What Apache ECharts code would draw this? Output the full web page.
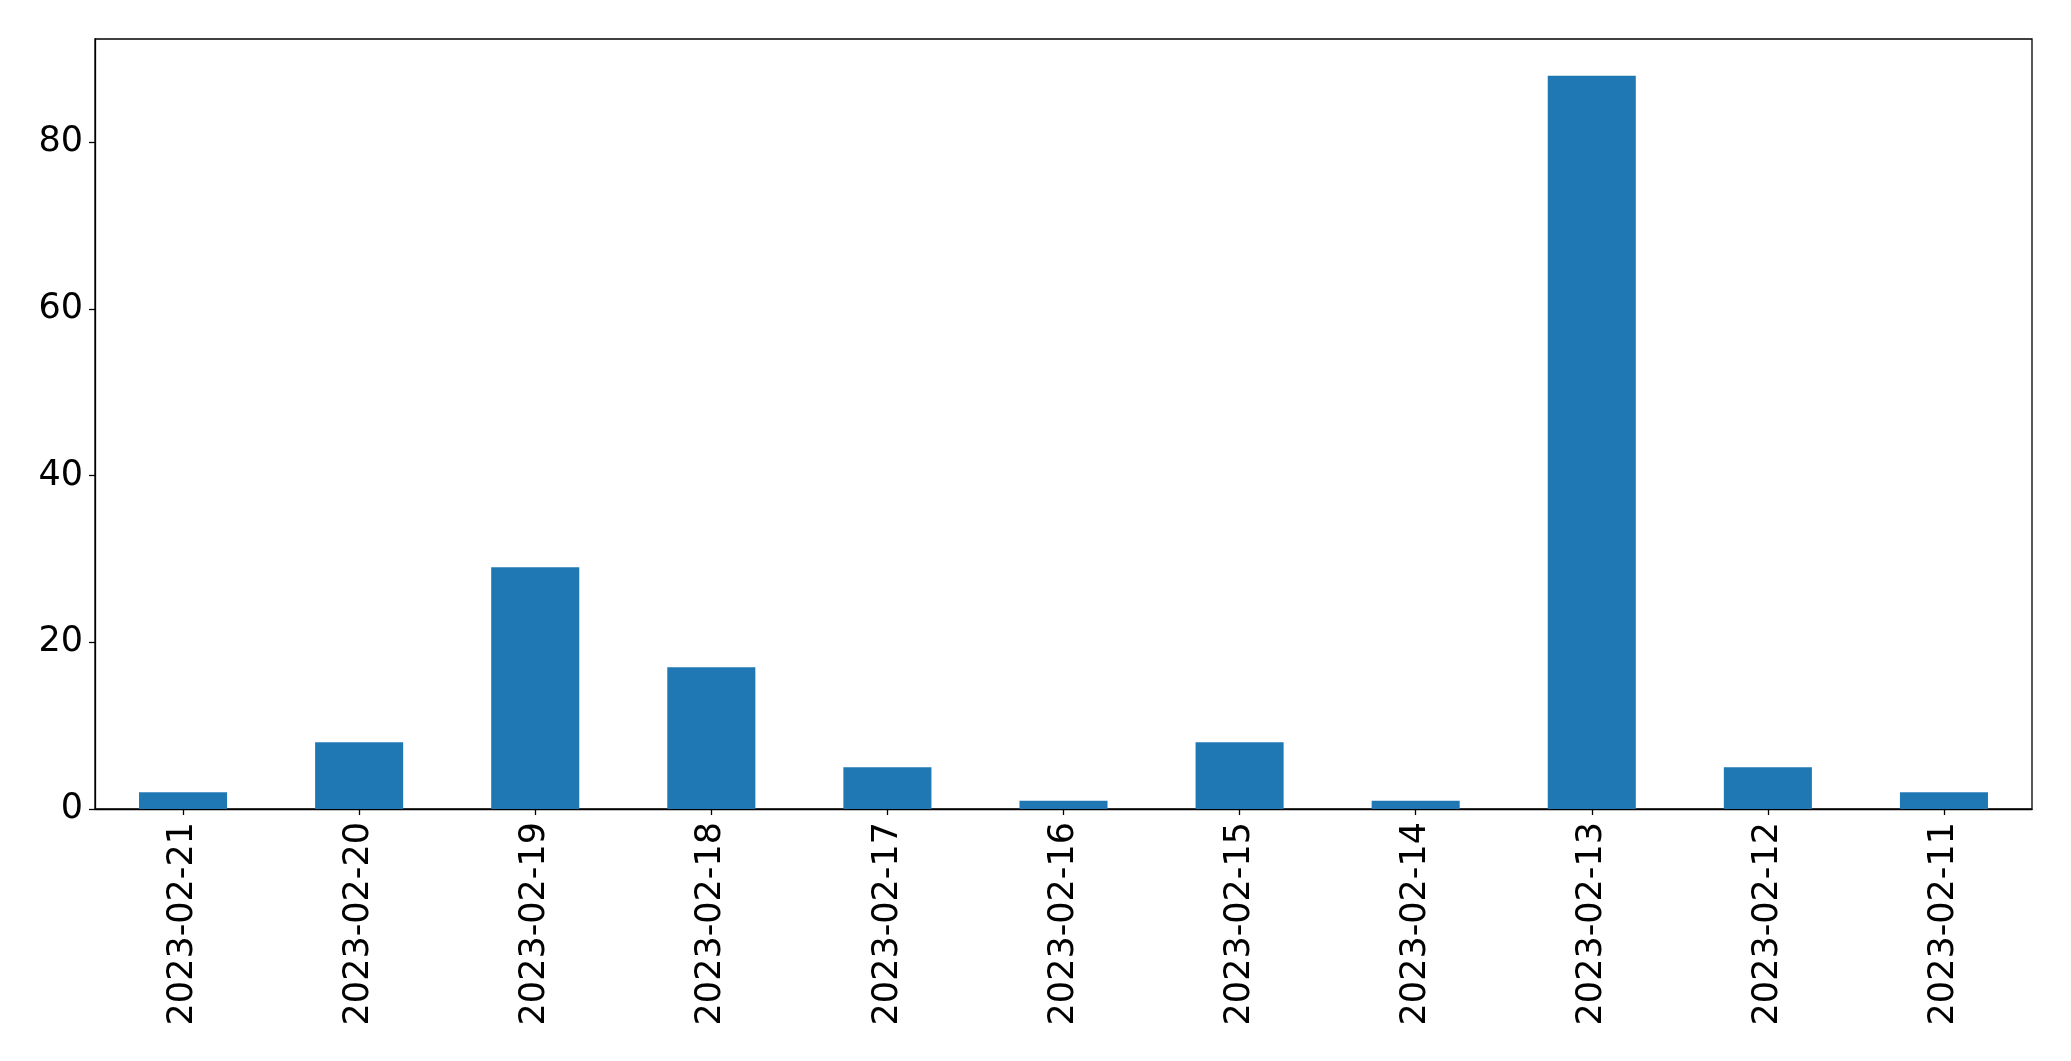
<!DOCTYPE html>
<html>
<head>
<meta charset="utf-8">
<script src="https://cdn.jsdelivr.net/npm/echarts@6/dist/echarts.min.js"></script>
<style>
html,body{margin:0;padding:0;background:#fff;}
#chart{width:2071px;height:1061px;}
</style>
</head>
<body>
<div id="chart"></div>
<script>
const categories = ['2023-02-21','2023-02-20','2023-02-19','2023-02-18','2023-02-17','2023-02-16','2023-02-15','2023-02-14','2023-02-13','2023-02-12','2023-02-11'];
const values = [2, 8, 29, 17, 5, 1, 8, 1, 88, 5, 2];
const yTicks = [0, 20, 40, 60, 80];

const chart = echarts.init(document.getElementById('chart'), null, {renderer: 'canvas'});
const font = 'DejaVu Sans';
chart.setOption({
  animation: false,
  backgroundColor: '#ffffff',
  grid: {left: 95, right: 39, top: 39, bottom: 252, show: true, borderColor: '#000', borderWidth: 1.3, containLabel: false},
  xAxis: {
    type: 'category',
    data: categories,
    boundaryGap: true,
    axisLine: {show: true, lineStyle: {color: '#000', width: 1.3}},
    axisTick: {show: true, alignWithLabel: true, length: 6, lineStyle: {color: '#000', width: 1.3}},
    axisLabel: {rotate: 90, fontFamily: font, fontSize: 35, color: '#000', margin: 13, interval: 0},
    splitLine: {show: false}
  },
  yAxis: {
    type: 'value',
    min: 0,
    max: 92.4,
    interval: 20,
    axisLine: {show: true, lineStyle: {color: '#000', width: 1.3}},
    axisTick: {show: true, length: 6, lineStyle: {color: '#000', width: 1.3}},
    axisLabel: {
      fontFamily: font, fontSize: 35, color: '#000', margin: 12, showMaxLabel: false,
      formatter: v => yTicks.includes(v) ? String(v) : ''
    },
    splitLine: {show: false}
  },
  series: [{
    type: 'bar',
    data: values,
    barWidth: '50%',
    itemStyle: {color: '#1f77b4'}
  }]
});
</script>
</body>
</html>
